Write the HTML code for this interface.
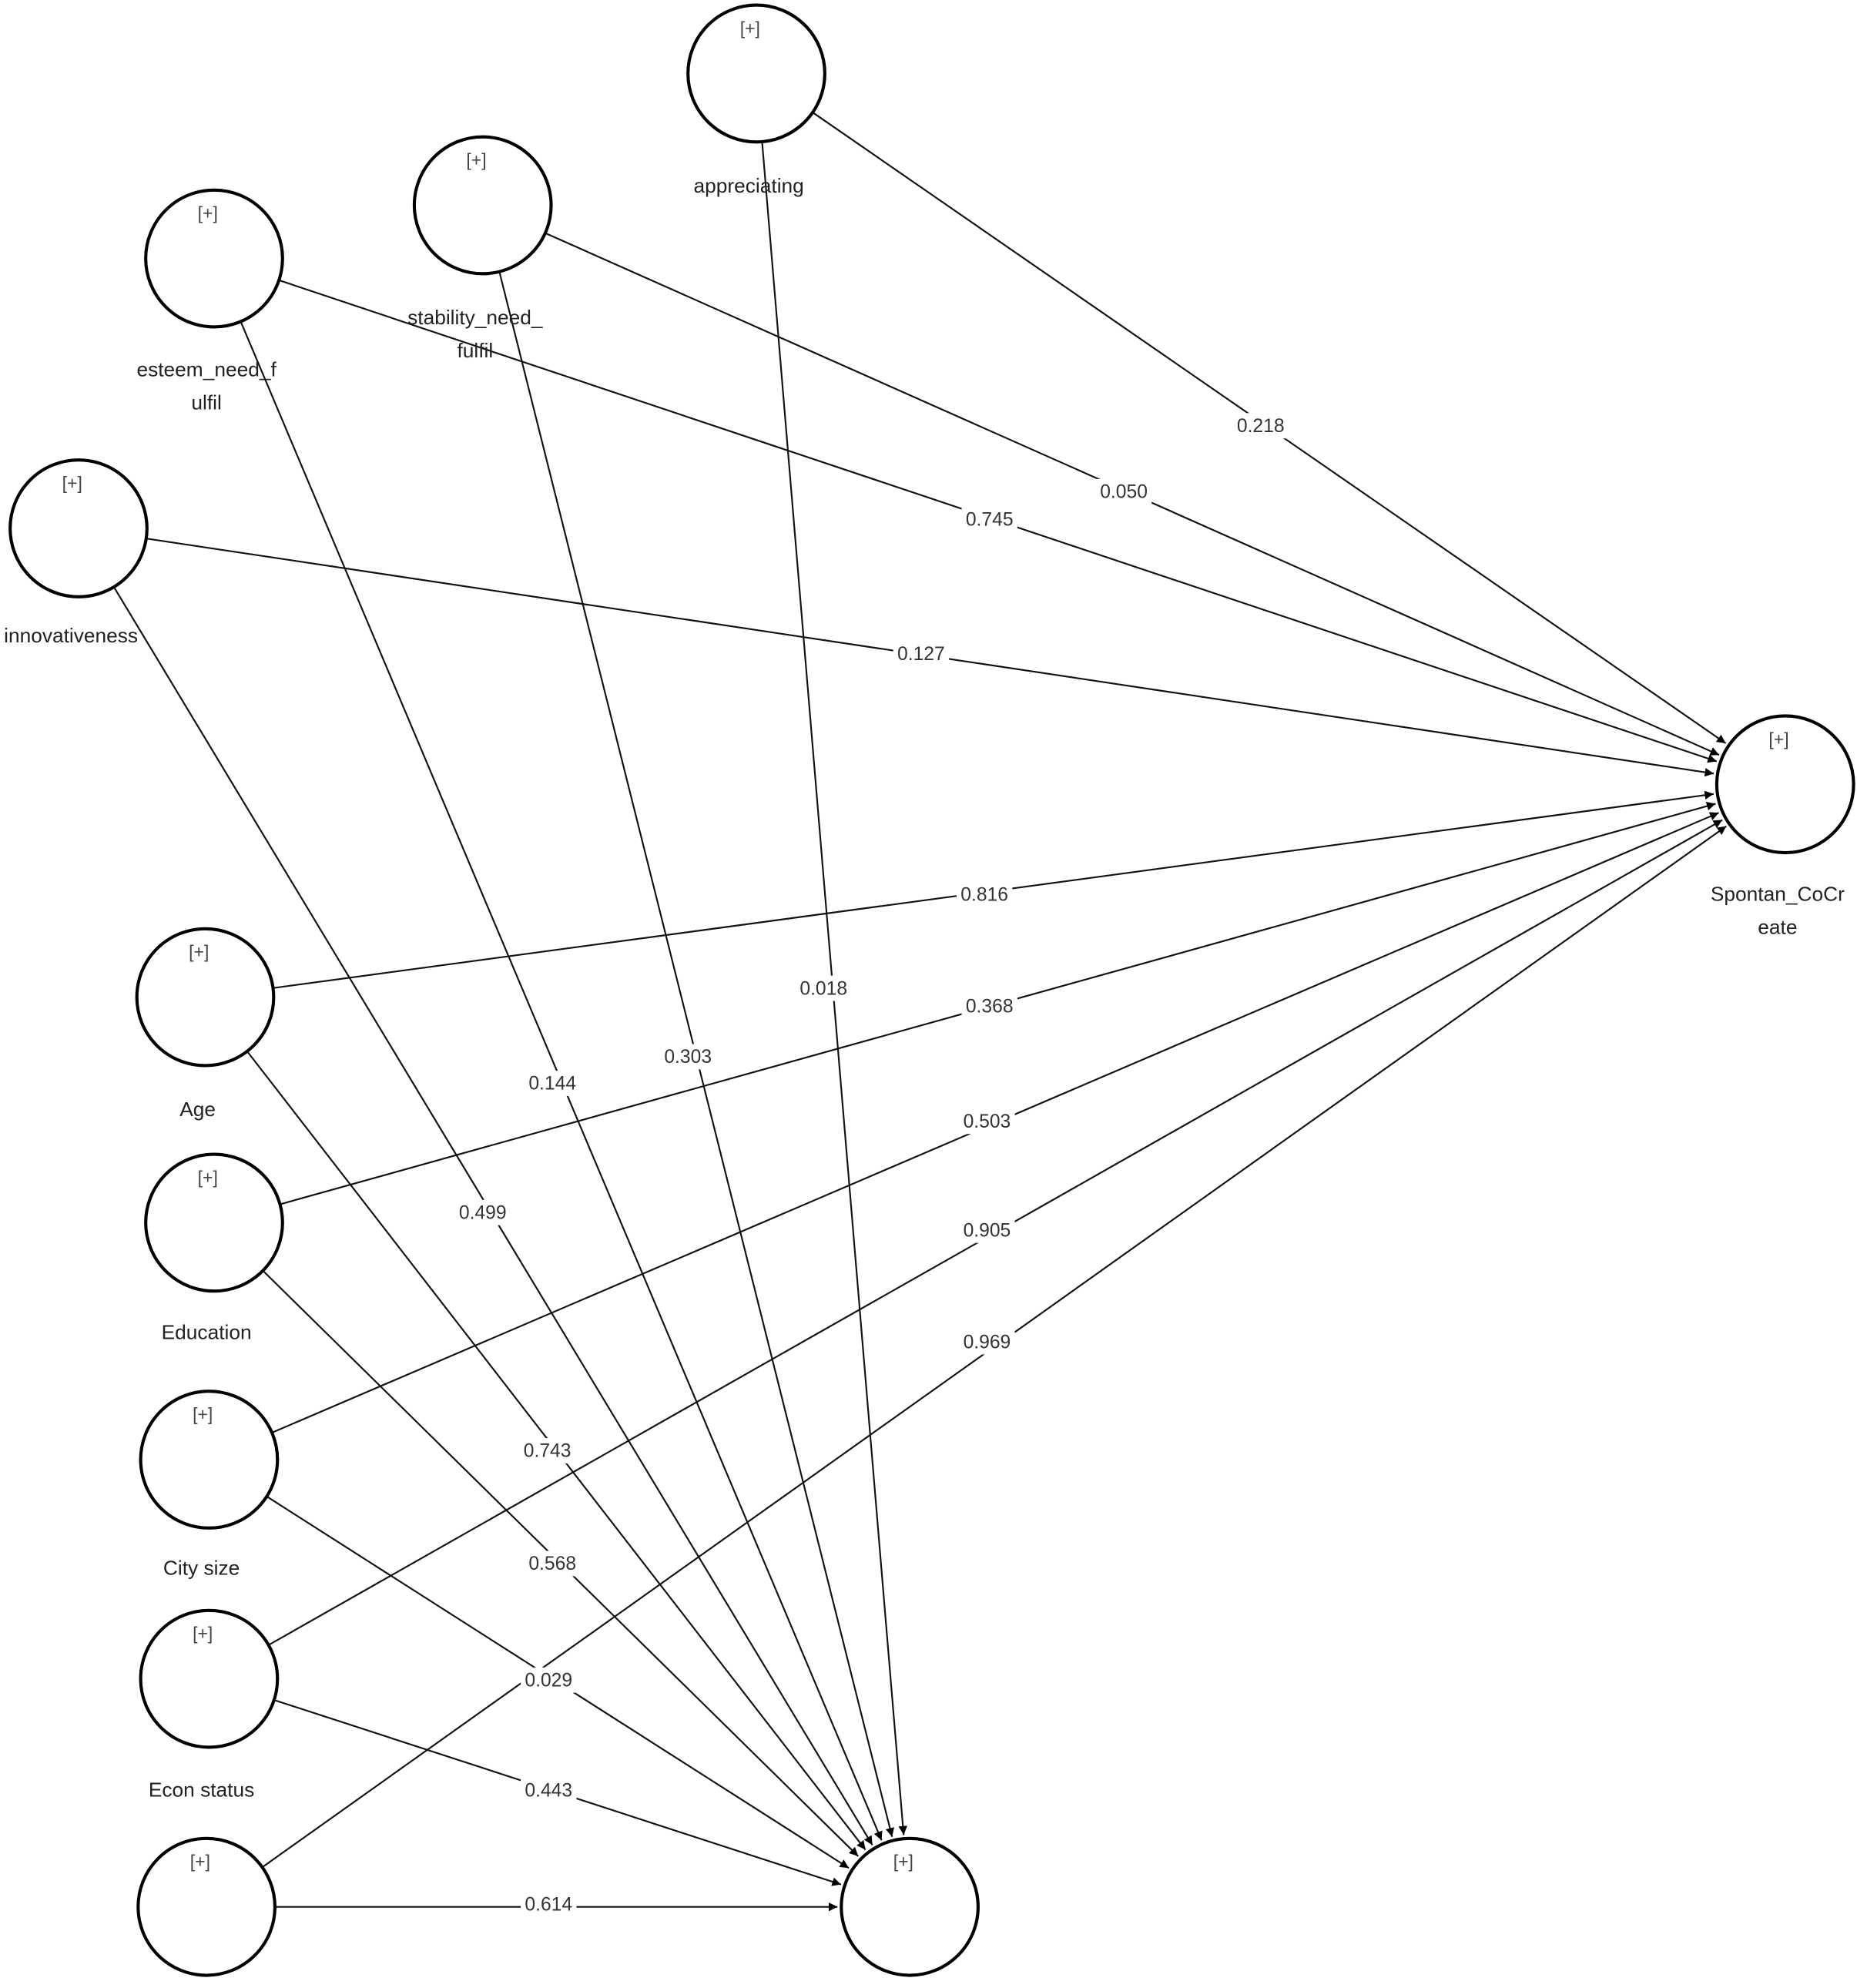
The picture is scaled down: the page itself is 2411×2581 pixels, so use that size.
<!DOCTYPE html>
<html><head><meta charset="utf-8"><style>
html,body{margin:0;padding:0;background:#fff;}
svg{display:block;}
text{font-family:"Liberation Sans","DejaVu Sans",sans-serif;}
</style></head><body>
<svg id="s" xmlns="http://www.w3.org/2000/svg" width="2411" height="2581" viewBox="0 0 1465.7 1569">
<defs><marker id="ar" viewBox="0 0 10 10" refX="10" refY="5" markerWidth="7" markerHeight="7" orient="auto" markerUnits="userSpaceOnUse"><path d="M0,0 L10,5 L0,10 z" fill="#000"/></marker></defs>
<g id="lines"></g><g id="labs"></g><g id="nodes"></g>
</svg>
<script>
var NS="http://www.w3.org/2000/svg";
function el(p,t,a,txt){var e=document.createElementNS(NS,t);for(var k in a)e.setAttribute(k,a[k]);if(txt!==undefined)e.textContent=txt;document.getElementById(p).appendChild(e);return e;}
var R=54;
var N={
app:[597,58,["appreciating"],147],
stab:[381,162,["stability_need_","fulfil"],251],
est:[169,204,["esteem_need_f","ulfil"],292],
inn:[62,417,["innovativeness"],502],
age:[162,787,["Age"],876],
edu:[169,965,["Education"],1052],
city:[165,1152,["City size"],1238],
econ:[165,1325,["Econ status"],1413],
un:[163,1505,[],0],
sp:[1409,619,["Spontan_CoCr","eate"],706],
bt:[718,1505,[],0]
};
var E=[
["app","sp","0.218",995,336],["stab","sp","0.050",887,388],["est","sp","0.745",781,410],["inn","sp","0.127",727,516],
["age","sp","0.816",777,706],["edu","sp","0.368",781,794],["city","sp","0.503",779,885],["econ","sp","0.905",779,971],["un","sp","0.969",779,1059],
["app","bt","0.018",650,780],["stab","bt","0.303",543,834],["est","bt","0.144",436,855],["inn","bt","0.499",381,957],
["age","bt","0.743",432,1145],["edu","bt","0.568",436,1234],["city","bt","0.029",433,1326],["econ","bt","0.443",433,1413],["un","bt","0.614",433,1503]
];
E.forEach(function(e){
var a=N[e[0]],b=N[e[1]];var dx=b[0]-a[0],dy=b[1]-a[1],L=Math.sqrt(dx*dx+dy*dy),ux=dx/L,uy=dy/L;
el("lines","line",{x1:a[0]+ux*R,y1:a[1]+uy*R,x2:b[0]-ux*(R+3),y2:b[1]-uy*(R+3),stroke:"#111","stroke-width":1.3,"marker-end":"url(#ar)"});
el("labs","rect",{x:e[3]-22,y:e[4]-10,width:44,height:20,fill:"#fff"});
el("labs","text",{x:e[3],y:e[4]+5,"font-size":15,"text-anchor":"middle",fill:"#333"},e[2]);
});
for(var k in N){var n=N[k];
el("nodes","circle",{cx:n[0],cy:n[1],r:R,fill:"#fff",stroke:"#000","stroke-width":2.5});
el("nodes","text",{x:n[0]-5,y:n[1]-31,"font-size":14,"text-anchor":"middle",fill:"#444"},"[+]");
n[2].forEach(function(t,i){el("nodes","text",{x:n[0]-6,y:n[3]+5+i*26,"font-size":16,"text-anchor":"middle",fill:"#222"},t);});
}
</script>
</body></html>
